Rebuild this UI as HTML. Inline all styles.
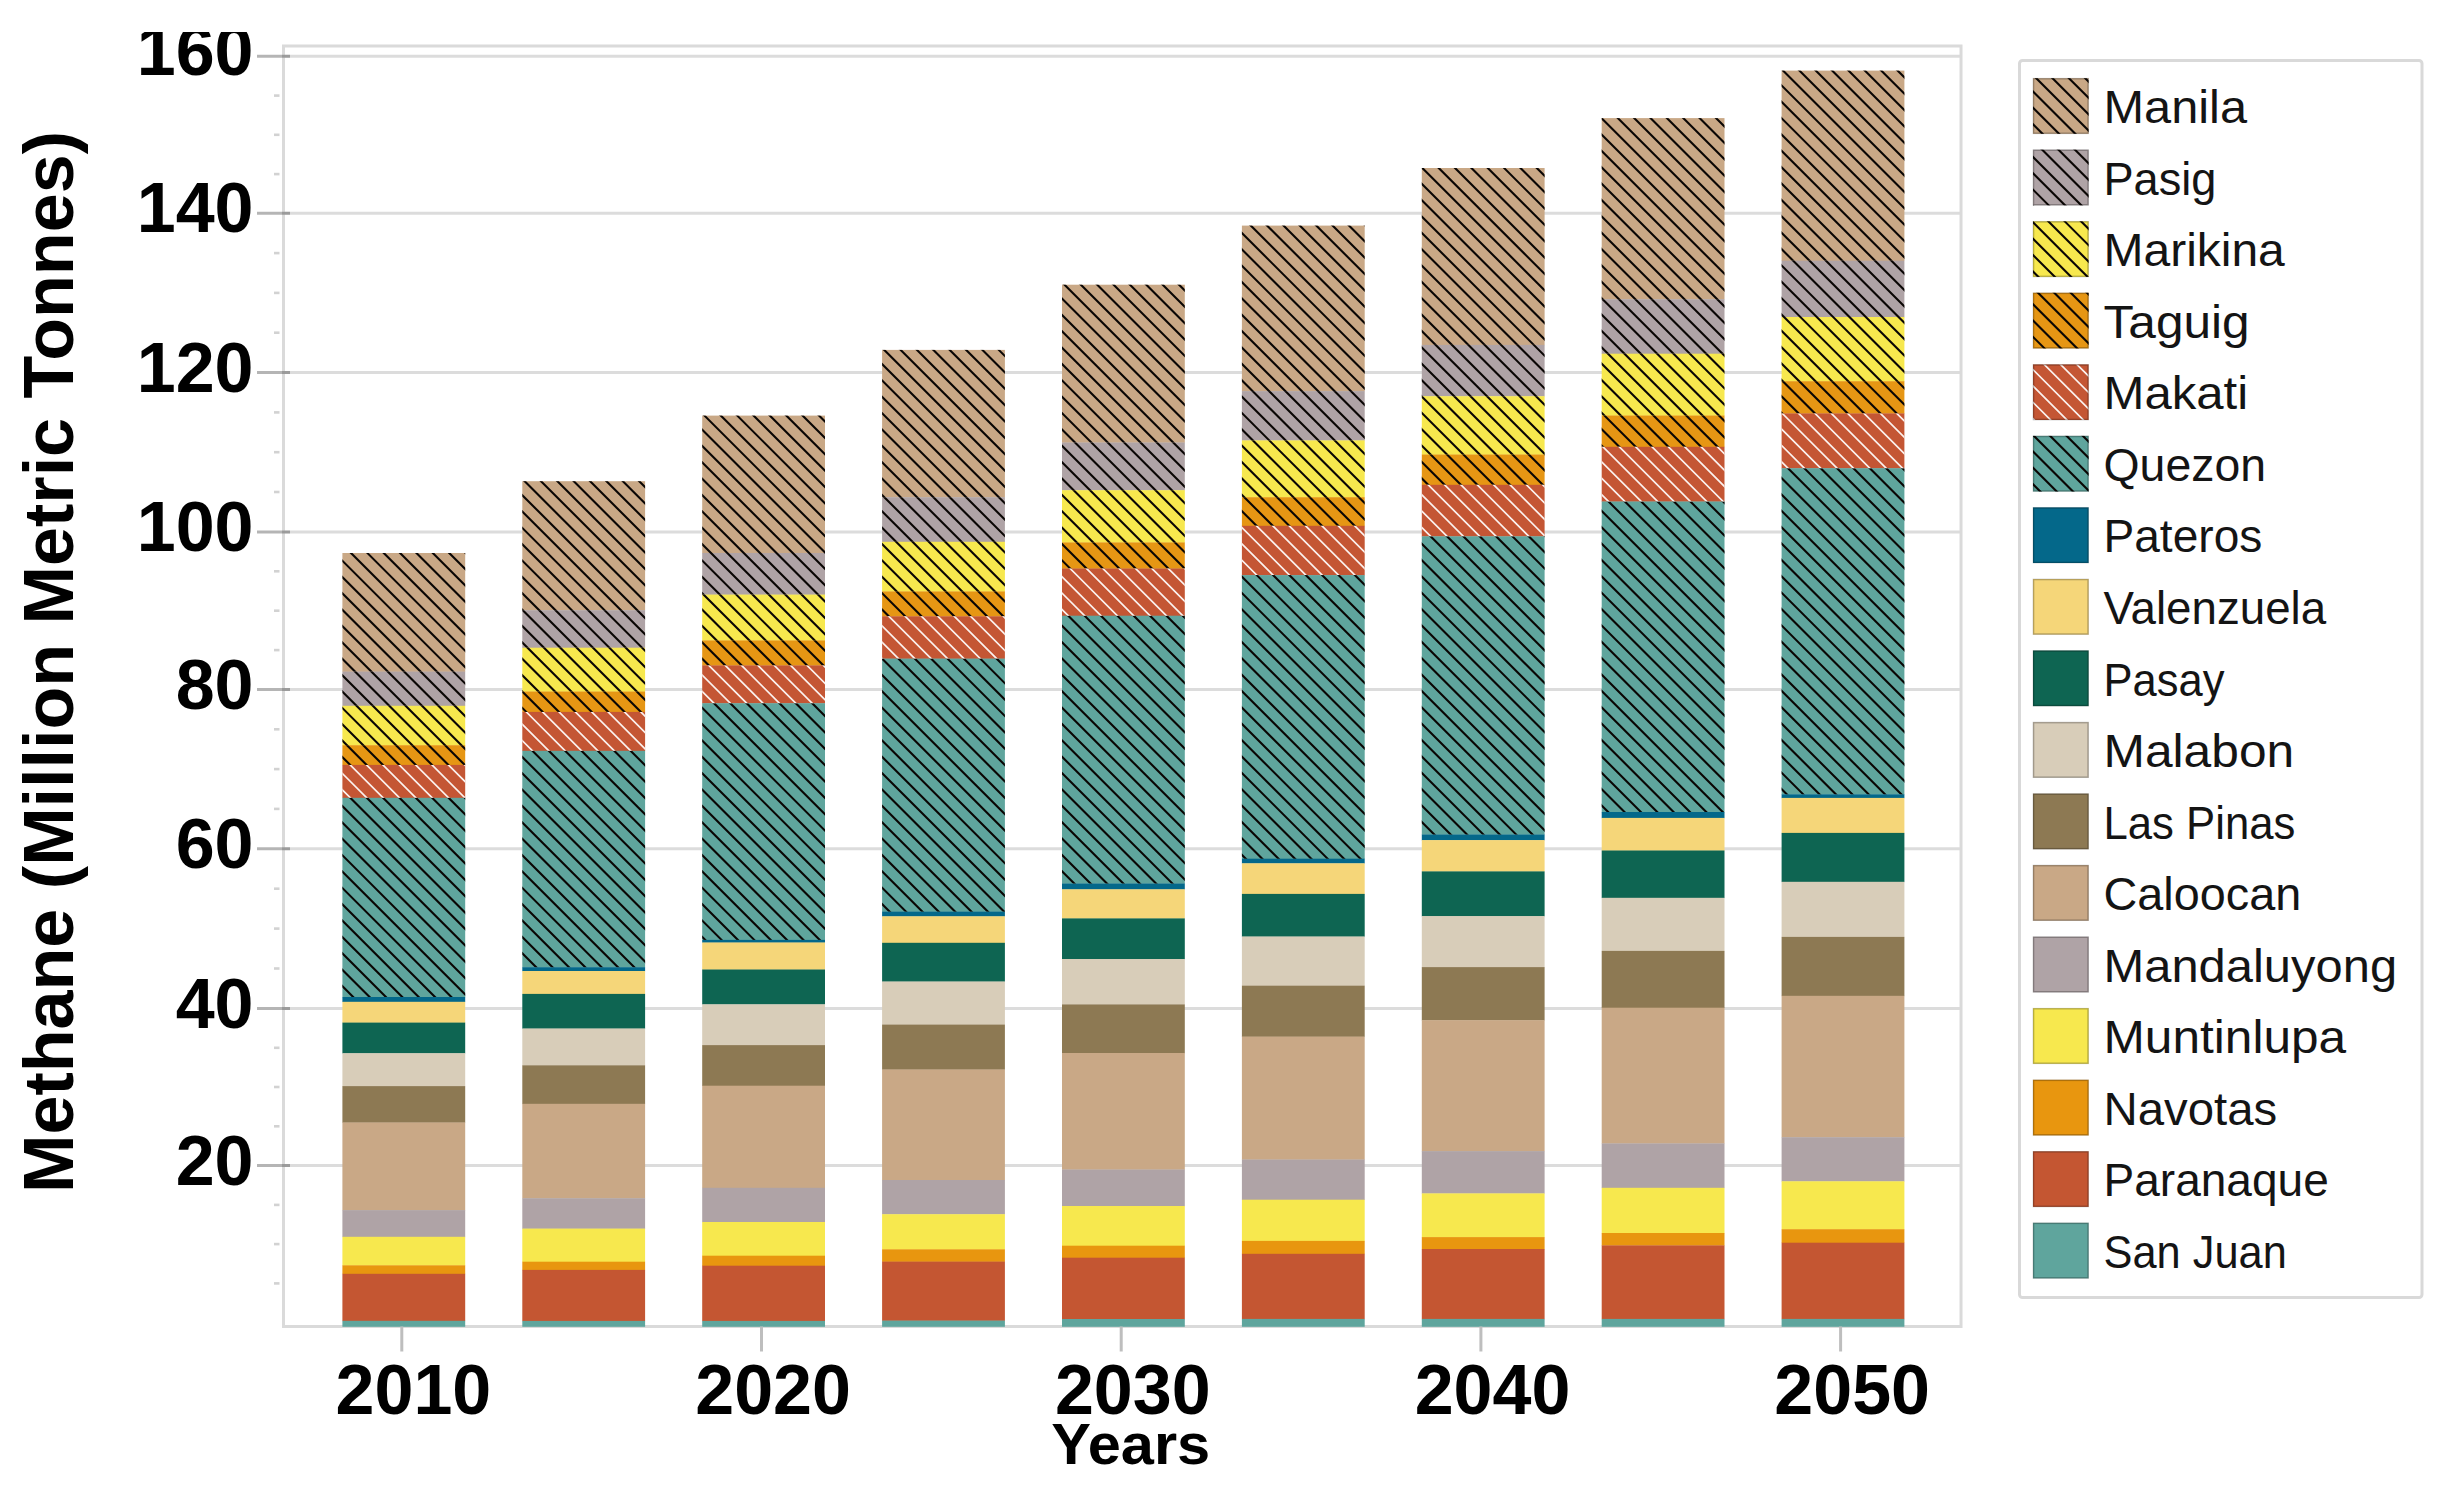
<!DOCTYPE html>
<html lang="en"><head><meta charset="utf-8"><title>Methane (Million Metric Tonnes) by Years</title>
<style>html,body{margin:0;padding:0;background:#fff}svg{display:block}text{font-family:"Liberation Sans",sans-serif}</style>
</head><body>
<svg width="2450" height="1495" viewBox="0 0 2450 1495">
<rect x="0" y="0" width="2450" height="1495" fill="#ffffff"/>
<defs>
<clipPath id="ck"><rect x="342.4" y="553.0" width="122.8" height="118.6"/><rect x="342.4" y="671.6" width="122.8" height="34.2"/><rect x="342.4" y="705.8" width="122.8" height="39.4"/><rect x="342.4" y="745.2" width="122.8" height="19.7"/><rect x="342.4" y="797.8" width="122.8" height="199.2"/><rect x="522.3" y="481.2" width="122.8" height="129.0"/><rect x="522.3" y="610.2" width="122.8" height="37.5"/><rect x="522.3" y="647.7" width="122.8" height="43.8"/><rect x="522.3" y="691.5" width="122.8" height="20.4"/><rect x="522.3" y="750.8" width="122.8" height="216.4"/><rect x="702.2" y="415.6" width="122.8" height="137.4"/><rect x="702.2" y="553.0" width="122.8" height="41.6"/><rect x="702.2" y="594.6" width="122.8" height="45.8"/><rect x="702.2" y="640.4" width="122.8" height="25.0"/><rect x="702.2" y="703.2" width="122.8" height="236.7"/><rect x="882.1" y="349.9" width="122.8" height="147.3"/><rect x="882.1" y="497.2" width="122.8" height="44.6"/><rect x="882.1" y="541.8" width="122.8" height="49.6"/><rect x="882.1" y="591.4" width="122.8" height="24.9"/><rect x="882.1" y="658.6" width="122.8" height="253.0"/><rect x="1062.0" y="284.7" width="122.8" height="157.8"/><rect x="1062.0" y="442.5" width="122.8" height="47.7"/><rect x="1062.0" y="490.2" width="122.8" height="52.2"/><rect x="1062.0" y="542.4" width="122.8" height="26.1"/><rect x="1062.0" y="615.7" width="122.8" height="267.8"/><rect x="1241.9" y="225.6" width="122.8" height="165.5"/><rect x="1241.9" y="391.1" width="122.8" height="49.3"/><rect x="1241.9" y="440.4" width="122.8" height="56.8"/><rect x="1241.9" y="497.2" width="122.8" height="28.6"/><rect x="1241.9" y="575.1" width="122.8" height="283.6"/><rect x="1421.8" y="168.0" width="122.8" height="176.9"/><rect x="1421.8" y="344.9" width="122.8" height="51.3"/><rect x="1421.8" y="396.2" width="122.8" height="58.3"/><rect x="1421.8" y="454.5" width="122.8" height="30.3"/><rect x="1421.8" y="536.3" width="122.8" height="298.2"/><rect x="1601.7" y="118.1" width="122.8" height="181.1"/><rect x="1601.7" y="299.2" width="122.8" height="54.5"/><rect x="1601.7" y="353.7" width="122.8" height="61.8"/><rect x="1601.7" y="415.5" width="122.8" height="31.3"/><rect x="1601.7" y="501.5" width="122.8" height="310.5"/><rect x="1781.6" y="70.6" width="122.8" height="190.1"/><rect x="1781.6" y="260.7" width="122.8" height="56.3"/><rect x="1781.6" y="317.0" width="122.8" height="64.2"/><rect x="1781.6" y="381.2" width="122.8" height="32.2"/><rect x="1781.6" y="468.2" width="122.8" height="326.1"/><rect x="2033.0" y="78.2" width="55.6" height="55.6"/><rect x="2033.0" y="149.7" width="55.6" height="55.6"/><rect x="2033.0" y="221.3" width="55.6" height="55.6"/><rect x="2033.0" y="292.8" width="55.6" height="55.6"/><rect x="2033.0" y="435.9" width="55.6" height="55.6"/></clipPath>
<clipPath id="cw"><rect x="342.4" y="764.9" width="122.8" height="32.9"/><rect x="522.3" y="711.9" width="122.8" height="38.9"/><rect x="702.2" y="665.4" width="122.8" height="37.8"/><rect x="882.1" y="616.3" width="122.8" height="42.3"/><rect x="1062.0" y="568.5" width="122.8" height="47.2"/><rect x="1241.9" y="525.8" width="122.8" height="49.3"/><rect x="1421.8" y="484.8" width="122.8" height="51.5"/><rect x="1601.7" y="446.8" width="122.8" height="54.7"/><rect x="1781.6" y="413.4" width="122.8" height="54.8"/><rect x="2033.0" y="364.4" width="55.6" height="55.6"/></clipPath>
<clipPath id="ctop"><rect x="0" y="32" width="300" height="100"/></clipPath>
</defs>
<g>
<g stroke="#dcdcdc" stroke-width="3">
<line x1="283.5" y1="56.3" x2="1961.0" y2="56.3"/>
<line x1="283.5" y1="213.3" x2="1961.0" y2="213.3"/>
<line x1="283.5" y1="372.5" x2="1961.0" y2="372.5"/>
<line x1="283.5" y1="531.9" x2="1961.0" y2="531.9"/>
<line x1="283.5" y1="689.5" x2="1961.0" y2="689.5"/>
<line x1="283.5" y1="848.7" x2="1961.0" y2="848.7"/>
<line x1="283.5" y1="1008.5" x2="1961.0" y2="1008.5"/>
<line x1="283.5" y1="1165.6" x2="1961.0" y2="1165.6"/>
</g>
<rect x="283.5" y="46.0" width="1677.5" height="1280.5" fill="none" stroke="#dadada" stroke-width="3"/>
<g>
<rect x="342.4" y="553.0" width="122.8" height="118.9" fill="#C9A886"/>
<rect x="342.4" y="671.6" width="122.8" height="34.5" fill="#AFA3A6"/>
<rect x="342.4" y="705.8" width="122.8" height="39.7" fill="#F7E84E"/>
<rect x="342.4" y="745.2" width="122.8" height="20.0" fill="#E69614"/>
<rect x="342.4" y="764.9" width="122.8" height="33.2" fill="#C45634"/>
<rect x="342.4" y="797.8" width="122.8" height="199.5" fill="#5FA59D"/>
<rect x="342.4" y="997.0" width="122.8" height="5.1" fill="#04688A"/>
<rect x="342.4" y="1001.8" width="122.8" height="21.1" fill="#F5D679"/>
<rect x="342.4" y="1022.6" width="122.8" height="30.9" fill="#0E6552"/>
<rect x="342.4" y="1053.2" width="122.8" height="33.2" fill="#D8CDB9"/>
<rect x="342.4" y="1086.1" width="122.8" height="36.7" fill="#8D7953"/>
<rect x="342.4" y="1122.5" width="122.8" height="87.9" fill="#C9A886"/>
<rect x="342.4" y="1210.1" width="122.8" height="27.0" fill="#AFA3A6"/>
<rect x="342.4" y="1236.8" width="122.8" height="28.8" fill="#F7E84E"/>
<rect x="342.4" y="1265.3" width="122.8" height="8.8" fill="#E8960F"/>
<rect x="342.4" y="1273.8" width="122.8" height="47.3" fill="#C45632"/>
<rect x="342.4" y="1320.8" width="122.8" height="6.0" fill="#5FA59D"/>
<rect x="522.3" y="481.2" width="122.8" height="129.3" fill="#C9A886"/>
<rect x="522.3" y="610.2" width="122.8" height="37.8" fill="#AFA3A6"/>
<rect x="522.3" y="647.7" width="122.8" height="44.1" fill="#F7E84E"/>
<rect x="522.3" y="691.5" width="122.8" height="20.7" fill="#E69614"/>
<rect x="522.3" y="711.9" width="122.8" height="39.2" fill="#C45634"/>
<rect x="522.3" y="750.8" width="122.8" height="216.7" fill="#5FA59D"/>
<rect x="522.3" y="967.2" width="122.8" height="4.1" fill="#04688A"/>
<rect x="522.3" y="971.0" width="122.8" height="23.2" fill="#F5D679"/>
<rect x="522.3" y="993.9" width="122.8" height="34.9" fill="#0E6552"/>
<rect x="522.3" y="1028.5" width="122.8" height="37.1" fill="#D8CDB9"/>
<rect x="522.3" y="1065.3" width="122.8" height="38.8" fill="#8D7953"/>
<rect x="522.3" y="1103.8" width="122.8" height="94.7" fill="#C9A886"/>
<rect x="522.3" y="1198.2" width="122.8" height="30.7" fill="#AFA3A6"/>
<rect x="522.3" y="1228.6" width="122.8" height="33.4" fill="#F7E84E"/>
<rect x="522.3" y="1261.7" width="122.8" height="8.5" fill="#E8960F"/>
<rect x="522.3" y="1269.9" width="122.8" height="51.3" fill="#C45632"/>
<rect x="522.3" y="1320.9" width="122.8" height="5.9" fill="#5FA59D"/>
<rect x="702.2" y="415.6" width="122.8" height="137.7" fill="#C9A886"/>
<rect x="702.2" y="553.0" width="122.8" height="41.9" fill="#AFA3A6"/>
<rect x="702.2" y="594.6" width="122.8" height="46.1" fill="#F7E84E"/>
<rect x="702.2" y="640.4" width="122.8" height="25.3" fill="#E69614"/>
<rect x="702.2" y="665.4" width="122.8" height="38.1" fill="#C45634"/>
<rect x="702.2" y="703.2" width="122.8" height="237.0" fill="#5FA59D"/>
<rect x="702.2" y="939.9" width="122.8" height="2.9" fill="#04688A"/>
<rect x="702.2" y="942.5" width="122.8" height="27.3" fill="#F5D679"/>
<rect x="702.2" y="969.5" width="122.8" height="35.1" fill="#0E6552"/>
<rect x="702.2" y="1004.3" width="122.8" height="41.1" fill="#D8CDB9"/>
<rect x="702.2" y="1045.1" width="122.8" height="40.9" fill="#8D7953"/>
<rect x="702.2" y="1085.7" width="122.8" height="102.4" fill="#C9A886"/>
<rect x="702.2" y="1187.8" width="122.8" height="34.5" fill="#AFA3A6"/>
<rect x="702.2" y="1222.0" width="122.8" height="34.0" fill="#F7E84E"/>
<rect x="702.2" y="1255.7" width="122.8" height="10.3" fill="#E8960F"/>
<rect x="702.2" y="1265.7" width="122.8" height="55.5" fill="#C45632"/>
<rect x="702.2" y="1320.9" width="122.8" height="5.9" fill="#5FA59D"/>
<rect x="882.1" y="349.9" width="122.8" height="147.6" fill="#C9A886"/>
<rect x="882.1" y="497.2" width="122.8" height="44.9" fill="#AFA3A6"/>
<rect x="882.1" y="541.8" width="122.8" height="49.9" fill="#F7E84E"/>
<rect x="882.1" y="591.4" width="122.8" height="25.2" fill="#E69614"/>
<rect x="882.1" y="616.3" width="122.8" height="42.6" fill="#C45634"/>
<rect x="882.1" y="658.6" width="122.8" height="253.3" fill="#5FA59D"/>
<rect x="882.1" y="911.6" width="122.8" height="5.0" fill="#04688A"/>
<rect x="882.1" y="916.3" width="122.8" height="26.8" fill="#F5D679"/>
<rect x="882.1" y="942.8" width="122.8" height="39.0" fill="#0E6552"/>
<rect x="882.1" y="981.5" width="122.8" height="43.4" fill="#D8CDB9"/>
<rect x="882.1" y="1024.6" width="122.8" height="45.2" fill="#8D7953"/>
<rect x="882.1" y="1069.5" width="122.8" height="110.8" fill="#C9A886"/>
<rect x="882.1" y="1180.0" width="122.8" height="34.5" fill="#AFA3A6"/>
<rect x="882.1" y="1214.2" width="122.8" height="35.4" fill="#F7E84E"/>
<rect x="882.1" y="1249.3" width="122.8" height="12.6" fill="#E8960F"/>
<rect x="882.1" y="1261.6" width="122.8" height="59.3" fill="#C45632"/>
<rect x="882.1" y="1320.6" width="122.8" height="6.2" fill="#5FA59D"/>
<rect x="1062.0" y="284.7" width="122.8" height="158.1" fill="#C9A886"/>
<rect x="1062.0" y="442.5" width="122.8" height="48.0" fill="#AFA3A6"/>
<rect x="1062.0" y="490.2" width="122.8" height="52.5" fill="#F7E84E"/>
<rect x="1062.0" y="542.4" width="122.8" height="26.4" fill="#E69614"/>
<rect x="1062.0" y="568.5" width="122.8" height="47.5" fill="#C45634"/>
<rect x="1062.0" y="615.7" width="122.8" height="268.1" fill="#5FA59D"/>
<rect x="1062.0" y="883.5" width="122.8" height="6.1" fill="#04688A"/>
<rect x="1062.0" y="889.3" width="122.8" height="29.4" fill="#F5D679"/>
<rect x="1062.0" y="918.4" width="122.8" height="40.9" fill="#0E6552"/>
<rect x="1062.0" y="959.0" width="122.8" height="45.7" fill="#D8CDB9"/>
<rect x="1062.0" y="1004.4" width="122.8" height="48.9" fill="#8D7953"/>
<rect x="1062.0" y="1053.0" width="122.8" height="116.8" fill="#C9A886"/>
<rect x="1062.0" y="1169.5" width="122.8" height="36.8" fill="#AFA3A6"/>
<rect x="1062.0" y="1206.0" width="122.8" height="40.0" fill="#F7E84E"/>
<rect x="1062.0" y="1245.7" width="122.8" height="12.3" fill="#E8960F"/>
<rect x="1062.0" y="1257.7" width="122.8" height="61.6" fill="#C45632"/>
<rect x="1062.0" y="1319.0" width="122.8" height="7.8" fill="#5FA59D"/>
<rect x="1241.9" y="225.6" width="122.8" height="165.8" fill="#C9A886"/>
<rect x="1241.9" y="391.1" width="122.8" height="49.6" fill="#AFA3A6"/>
<rect x="1241.9" y="440.4" width="122.8" height="57.1" fill="#F7E84E"/>
<rect x="1241.9" y="497.2" width="122.8" height="28.9" fill="#E69614"/>
<rect x="1241.9" y="525.8" width="122.8" height="49.6" fill="#C45634"/>
<rect x="1241.9" y="575.1" width="122.8" height="283.9" fill="#5FA59D"/>
<rect x="1241.9" y="858.7" width="122.8" height="4.9" fill="#04688A"/>
<rect x="1241.9" y="863.3" width="122.8" height="30.9" fill="#F5D679"/>
<rect x="1241.9" y="893.9" width="122.8" height="42.9" fill="#0E6552"/>
<rect x="1241.9" y="936.5" width="122.8" height="49.5" fill="#D8CDB9"/>
<rect x="1241.9" y="985.7" width="122.8" height="51.2" fill="#8D7953"/>
<rect x="1241.9" y="1036.6" width="122.8" height="123.2" fill="#C9A886"/>
<rect x="1241.9" y="1159.5" width="122.8" height="40.5" fill="#AFA3A6"/>
<rect x="1241.9" y="1199.7" width="122.8" height="41.5" fill="#F7E84E"/>
<rect x="1241.9" y="1240.9" width="122.8" height="13.2" fill="#E8960F"/>
<rect x="1241.9" y="1253.8" width="122.8" height="65.4" fill="#C45632"/>
<rect x="1241.9" y="1318.9" width="122.8" height="7.9" fill="#5FA59D"/>
<rect x="1421.8" y="168.0" width="122.8" height="177.2" fill="#C9A886"/>
<rect x="1421.8" y="344.9" width="122.8" height="51.6" fill="#AFA3A6"/>
<rect x="1421.8" y="396.2" width="122.8" height="58.6" fill="#F7E84E"/>
<rect x="1421.8" y="454.5" width="122.8" height="30.6" fill="#E69614"/>
<rect x="1421.8" y="484.8" width="122.8" height="51.8" fill="#C45634"/>
<rect x="1421.8" y="536.3" width="122.8" height="298.5" fill="#5FA59D"/>
<rect x="1421.8" y="834.5" width="122.8" height="5.9" fill="#04688A"/>
<rect x="1421.8" y="840.1" width="122.8" height="31.6" fill="#F5D679"/>
<rect x="1421.8" y="871.4" width="122.8" height="45.0" fill="#0E6552"/>
<rect x="1421.8" y="916.1" width="122.8" height="51.3" fill="#D8CDB9"/>
<rect x="1421.8" y="967.1" width="122.8" height="53.4" fill="#8D7953"/>
<rect x="1421.8" y="1020.2" width="122.8" height="131.2" fill="#C9A886"/>
<rect x="1421.8" y="1151.1" width="122.8" height="42.6" fill="#AFA3A6"/>
<rect x="1421.8" y="1193.4" width="122.8" height="44.0" fill="#F7E84E"/>
<rect x="1421.8" y="1237.1" width="122.8" height="12.2" fill="#E8960F"/>
<rect x="1421.8" y="1249.0" width="122.8" height="70.2" fill="#C45632"/>
<rect x="1421.8" y="1318.9" width="122.8" height="7.9" fill="#5FA59D"/>
<rect x="1601.7" y="118.1" width="122.8" height="181.4" fill="#C9A886"/>
<rect x="1601.7" y="299.2" width="122.8" height="54.8" fill="#AFA3A6"/>
<rect x="1601.7" y="353.7" width="122.8" height="62.1" fill="#F7E84E"/>
<rect x="1601.7" y="415.5" width="122.8" height="31.6" fill="#E69614"/>
<rect x="1601.7" y="446.8" width="122.8" height="55.0" fill="#C45634"/>
<rect x="1601.7" y="501.5" width="122.8" height="310.8" fill="#5FA59D"/>
<rect x="1601.7" y="812.0" width="122.8" height="6.2" fill="#04688A"/>
<rect x="1601.7" y="817.9" width="122.8" height="32.9" fill="#F5D679"/>
<rect x="1601.7" y="850.5" width="122.8" height="47.6" fill="#0E6552"/>
<rect x="1601.7" y="897.8" width="122.8" height="53.4" fill="#D8CDB9"/>
<rect x="1601.7" y="950.9" width="122.8" height="57.1" fill="#8D7953"/>
<rect x="1601.7" y="1007.7" width="122.8" height="136.0" fill="#C9A886"/>
<rect x="1601.7" y="1143.4" width="122.8" height="44.7" fill="#AFA3A6"/>
<rect x="1601.7" y="1187.8" width="122.8" height="45.5" fill="#F7E84E"/>
<rect x="1601.7" y="1233.0" width="122.8" height="12.7" fill="#E8960F"/>
<rect x="1601.7" y="1245.4" width="122.8" height="73.8" fill="#C45632"/>
<rect x="1601.7" y="1318.9" width="122.8" height="7.9" fill="#5FA59D"/>
<rect x="1781.6" y="70.6" width="122.8" height="190.4" fill="#C9A886"/>
<rect x="1781.6" y="260.7" width="122.8" height="56.6" fill="#AFA3A6"/>
<rect x="1781.6" y="317.0" width="122.8" height="64.5" fill="#F7E84E"/>
<rect x="1781.6" y="381.2" width="122.8" height="32.5" fill="#E69614"/>
<rect x="1781.6" y="413.4" width="122.8" height="55.1" fill="#C45634"/>
<rect x="1781.6" y="468.2" width="122.8" height="326.4" fill="#5FA59D"/>
<rect x="1781.6" y="794.3" width="122.8" height="3.9" fill="#04688A"/>
<rect x="1781.6" y="797.9" width="122.8" height="35.3" fill="#F5D679"/>
<rect x="1781.6" y="832.9" width="122.8" height="49.2" fill="#0E6552"/>
<rect x="1781.6" y="881.8" width="122.8" height="55.4" fill="#D8CDB9"/>
<rect x="1781.6" y="936.9" width="122.8" height="59.2" fill="#8D7953"/>
<rect x="1781.6" y="995.8" width="122.8" height="141.7" fill="#C9A886"/>
<rect x="1781.6" y="1137.2" width="122.8" height="44.4" fill="#AFA3A6"/>
<rect x="1781.6" y="1181.3" width="122.8" height="48.2" fill="#F7E84E"/>
<rect x="1781.6" y="1229.2" width="122.8" height="13.8" fill="#E8960F"/>
<rect x="1781.6" y="1242.7" width="122.8" height="76.5" fill="#C45632"/>
<rect x="1781.6" y="1318.9" width="122.8" height="7.9" fill="#5FA59D"/>
</g>
<rect x="2019.5" y="60.5" width="402.5" height="1237" rx="3" fill="#ffffff" stroke="#d9d9d9" stroke-width="3"/>
<rect x="2033.0" y="78.2" width="55.6" height="55.6" fill="#C9A886"/>
<rect x="2033.0" y="149.7" width="55.6" height="55.6" fill="#AFA3A6"/>
<rect x="2033.0" y="221.3" width="55.6" height="55.6" fill="#F7E84E"/>
<rect x="2033.0" y="292.8" width="55.6" height="55.6" fill="#E69614"/>
<rect x="2033.0" y="364.4" width="55.6" height="55.6" fill="#C45634"/>
<rect x="2033.0" y="435.9" width="55.6" height="55.6" fill="#5FA59D"/>
<rect x="2033.0" y="507.4" width="55.6" height="55.6" fill="#04688A"/>
<rect x="2033.0" y="579.0" width="55.6" height="55.6" fill="#F5D679"/>
<rect x="2033.0" y="650.5" width="55.6" height="55.6" fill="#0E6552"/>
<rect x="2033.0" y="722.1" width="55.6" height="55.6" fill="#D8CDB9"/>
<rect x="2033.0" y="793.6" width="55.6" height="55.6" fill="#8D7953"/>
<rect x="2033.0" y="865.1" width="55.6" height="55.6" fill="#C9A886"/>
<rect x="2033.0" y="936.7" width="55.6" height="55.6" fill="#AFA3A6"/>
<rect x="2033.0" y="1008.2" width="55.6" height="55.6" fill="#F7E84E"/>
<rect x="2033.0" y="1079.8" width="55.6" height="55.6" fill="#E8960F"/>
<rect x="2033.0" y="1151.3" width="55.6" height="55.6" fill="#C45632"/>
<rect x="2033.0" y="1222.8" width="55.6" height="55.6" fill="#5FA59D"/>
<g clip-path="url(#ck)"><path d="M2448.81 0.00L2450.00 1.19M2432.45 0.00L2450.00 17.55M2416.08 0.00L2450.00 33.92M2399.72 0.00L2450.00 50.28M2383.36 0.00L2450.00 66.64M2366.99 0.00L2450.00 83.01M2350.63 0.00L2450.00 99.37M2334.27 0.00L2450.00 115.73M2317.91 0.00L2450.00 132.09M2301.54 0.00L2450.00 148.46M2285.18 0.00L2450.00 164.82M2268.82 0.00L2450.00 181.18M2252.45 0.00L2450.00 197.55M2236.09 0.00L2450.00 213.91M2219.73 0.00L2450.00 230.27M2203.37 0.00L2450.00 246.63M2187.00 0.00L2450.00 263.00M2170.64 0.00L2450.00 279.36M2154.28 0.00L2450.00 295.72M2137.91 0.00L2450.00 312.09M2121.55 0.00L2450.00 328.45M2105.19 0.00L2450.00 344.81M2088.82 0.00L2450.00 361.18M2072.46 0.00L2450.00 377.54M2056.10 0.00L2450.00 393.90M2039.73 0.00L2450.00 410.27M2023.37 0.00L2450.00 426.63M2007.01 0.00L2450.00 442.99M1990.65 0.00L2450.00 459.35M1974.28 0.00L2450.00 475.72M1957.92 0.00L2450.00 492.08M1941.56 0.00L2450.00 508.44M1925.19 0.00L2450.00 524.81M1908.83 0.00L2450.00 541.17M1892.47 0.00L2450.00 557.53M1876.10 0.00L2450.00 573.90M1859.74 0.00L2450.00 590.26M1843.38 0.00L2450.00 606.62M1827.02 0.00L2450.00 622.98M1810.65 0.00L2450.00 639.35M1794.29 0.00L2450.00 655.71M1777.93 0.00L2450.00 672.07M1761.56 0.00L2450.00 688.44M1745.20 0.00L2450.00 704.80M1728.84 0.00L2450.00 721.16M1712.47 0.00L2450.00 737.53M1696.11 0.00L2450.00 753.89M1679.75 0.00L2450.00 770.25M1663.39 0.00L2450.00 786.61M1647.02 0.00L2450.00 802.98M1630.66 0.00L2450.00 819.34M1614.30 0.00L2450.00 835.70M1597.93 0.00L2450.00 852.07M1581.57 0.00L2450.00 868.43M1565.21 0.00L2450.00 884.79M1548.84 0.00L2450.00 901.16M1532.48 0.00L2450.00 917.52M1516.12 0.00L2450.00 933.88M1499.76 0.00L2450.00 950.24M1483.39 0.00L2450.00 966.61M1467.03 0.00L2450.00 982.97M1450.67 0.00L2450.00 999.33M1434.30 0.00L2450.00 1015.70M1417.94 0.00L2450.00 1032.06M1401.58 0.00L2450.00 1048.42M1385.21 0.00L2450.00 1064.79M1368.85 0.00L2450.00 1081.15M1352.49 0.00L2450.00 1097.51M1336.13 0.00L2450.00 1113.87M1319.76 0.00L2450.00 1130.24M1303.40 0.00L2450.00 1146.60M1287.04 0.00L2450.00 1162.96M1270.67 0.00L2450.00 1179.33M1254.31 0.00L2450.00 1195.69M1237.95 0.00L2450.00 1212.05M1221.58 0.00L2450.00 1228.42M1205.22 0.00L2450.00 1244.78M1188.86 0.00L2450.00 1261.14M1172.50 0.00L2450.00 1277.50M1156.13 0.00L2450.00 1293.87M1139.77 0.00L2450.00 1310.23M1123.41 0.00L2450.00 1326.59M1107.04 0.00L2450.00 1342.96M1090.68 0.00L2450.00 1359.32M1074.32 0.00L2450.00 1375.68M1057.95 0.00L2450.00 1392.05M1041.59 0.00L2450.00 1408.41M1025.23 0.00L2450.00 1424.77M1008.87 0.00L2450.00 1441.13M992.50 0.00L2450.00 1457.50M976.14 0.00L2450.00 1473.86M959.78 0.00L2450.00 1490.22M943.41 0.00L2438.41 1495.00M927.05 0.00L2422.05 1495.00M910.69 0.00L2405.69 1495.00M894.32 0.00L2389.32 1495.00M877.96 0.00L2372.96 1495.00M861.60 0.00L2356.60 1495.00M845.24 0.00L2340.24 1495.00M828.87 0.00L2323.87 1495.00M812.51 0.00L2307.51 1495.00M796.15 0.00L2291.15 1495.00M779.78 0.00L2274.78 1495.00M763.42 0.00L2258.42 1495.00M747.06 0.00L2242.06 1495.00M730.70 0.00L2225.70 1495.00M714.33 0.00L2209.33 1495.00M697.97 0.00L2192.97 1495.00M681.61 0.00L2176.61 1495.00M665.24 0.00L2160.24 1495.00M648.88 0.00L2143.88 1495.00M632.52 0.00L2127.52 1495.00M616.15 0.00L2111.15 1495.00M599.79 0.00L2094.79 1495.00M583.43 0.00L2078.43 1495.00M567.06 0.00L2062.07 1495.00M550.70 0.00L2045.70 1495.00M534.34 0.00L2029.34 1495.00M517.98 0.00L2012.98 1495.00M501.61 0.00L1996.61 1495.00M485.25 0.00L1980.25 1495.00M468.89 0.00L1963.89 1495.00M452.52 0.00L1947.52 1495.00M436.16 0.00L1931.16 1495.00M419.80 0.00L1914.80 1495.00M403.44 0.00L1898.43 1495.00M387.07 0.00L1882.07 1495.00M370.71 0.00L1865.71 1495.00M354.35 0.00L1849.35 1495.00M337.98 0.00L1832.98 1495.00M321.62 0.00L1816.62 1495.00M305.26 0.00L1800.26 1495.00M288.89 0.00L1783.89 1495.00M272.53 0.00L1767.53 1495.00M256.17 0.00L1751.17 1495.00M239.81 0.00L1734.81 1495.00M223.44 0.00L1718.44 1495.00M207.08 0.00L1702.08 1495.00M190.72 0.00L1685.72 1495.00M174.35 0.00L1669.35 1495.00M157.99 0.00L1652.99 1495.00M141.63 0.00L1636.63 1495.00M125.26 0.00L1620.26 1495.00M108.90 0.00L1603.90 1495.00M92.54 0.00L1587.54 1495.00M76.17 0.00L1571.17 1495.00M59.81 0.00L1554.81 1495.00M43.45 0.00L1538.45 1495.00M27.09 0.00L1522.09 1495.00M10.72 0.00L1505.72 1495.00M0.00 5.64L1489.36 1495.00M0.00 22.00L1473.00 1495.00M0.00 38.37L1456.63 1495.00M0.00 54.73L1440.27 1495.00M0.00 71.09L1423.91 1495.00M0.00 87.45L1407.55 1495.00M0.00 103.82L1391.18 1495.00M0.00 120.18L1374.82 1495.00M0.00 136.54L1358.46 1495.00M0.00 152.91L1342.09 1495.00M0.00 169.27L1325.73 1495.00M0.00 185.63L1309.37 1495.00M0.00 202.00L1293.00 1495.00M0.00 218.36L1276.64 1495.00M0.00 234.72L1260.28 1495.00M0.00 251.08L1243.91 1495.00M0.00 267.45L1227.55 1495.00M0.00 283.81L1211.19 1495.00M0.00 300.17L1194.83 1495.00M0.00 316.54L1178.46 1495.00M0.00 332.90L1162.10 1495.00M0.00 349.26L1145.74 1495.00M0.00 365.63L1129.37 1495.00M0.00 381.99L1113.01 1495.00M0.00 398.35L1096.65 1495.00M0.00 414.71L1080.29 1495.00M0.00 431.08L1063.92 1495.00M0.00 447.44L1047.56 1495.00M0.00 463.80L1031.20 1495.00M0.00 480.17L1014.83 1495.00M0.00 496.53L998.47 1495.00M0.00 512.89L982.11 1495.00M0.00 529.26L965.74 1495.00M0.00 545.62L949.38 1495.00M0.00 561.98L933.02 1495.00M0.00 578.34L916.66 1495.00M0.00 594.71L900.29 1495.00M0.00 611.07L883.93 1495.00M0.00 627.43L867.57 1495.00M0.00 643.80L851.20 1495.00M0.00 660.16L834.84 1495.00M0.00 676.52L818.48 1495.00M0.00 692.89L802.11 1495.00M0.00 709.25L785.75 1495.00M0.00 725.61L769.39 1495.00M0.00 741.98L753.02 1495.00M0.00 758.34L736.66 1495.00M0.00 774.70L720.30 1495.00M0.00 791.06L703.94 1495.00M0.00 807.43L687.57 1495.00M0.00 823.79L671.21 1495.00M0.00 840.15L654.85 1495.00M0.00 856.52L638.48 1495.00M0.00 872.88L622.12 1495.00M0.00 889.24L605.76 1495.00M0.00 905.60L589.40 1495.00M0.00 921.97L573.03 1495.00M0.00 938.33L556.67 1495.00M0.00 954.69L540.31 1495.00M0.00 971.06L523.94 1495.00M0.00 987.42L507.58 1495.00M0.00 1003.78L491.22 1495.00M0.00 1020.15L474.85 1495.00M0.00 1036.51L458.49 1495.00M0.00 1052.87L442.13 1495.00M0.00 1069.24L425.76 1495.00M0.00 1085.60L409.40 1495.00M0.00 1101.96L393.04 1495.00M0.00 1118.32L376.68 1495.00M0.00 1134.69L360.31 1495.00M0.00 1151.05L343.95 1495.00M0.00 1167.41L327.59 1495.00M0.00 1183.78L311.22 1495.00M0.00 1200.14L294.86 1495.00M0.00 1216.50L278.50 1495.00M0.00 1232.87L262.13 1495.00M0.00 1249.23L245.77 1495.00M0.00 1265.59L229.41 1495.00M0.00 1281.95L213.05 1495.00M0.00 1298.32L196.68 1495.00M0.00 1314.68L180.32 1495.00M0.00 1331.04L163.96 1495.00M0.00 1347.41L147.59 1495.00M0.00 1363.77L131.23 1495.00M0.00 1380.13L114.87 1495.00M0.00 1396.50L98.50 1495.00M0.00 1412.86L82.14 1495.00M0.00 1429.22L65.78 1495.00M0.00 1445.58L49.42 1495.00M0.00 1461.95L33.05 1495.00M0.00 1478.31L16.69 1495.00M0.00 1494.67L0.33 1495.00" fill="none" stroke="#0a0604" stroke-width="2.1"/></g>
<g clip-path="url(#cw)"><path d="M2448.81 0.00L2450.00 1.19M2432.45 0.00L2450.00 17.55M2416.08 0.00L2450.00 33.92M2399.72 0.00L2450.00 50.28M2383.36 0.00L2450.00 66.64M2366.99 0.00L2450.00 83.01M2350.63 0.00L2450.00 99.37M2334.27 0.00L2450.00 115.73M2317.91 0.00L2450.00 132.09M2301.54 0.00L2450.00 148.46M2285.18 0.00L2450.00 164.82M2268.82 0.00L2450.00 181.18M2252.45 0.00L2450.00 197.55M2236.09 0.00L2450.00 213.91M2219.73 0.00L2450.00 230.27M2203.37 0.00L2450.00 246.63M2187.00 0.00L2450.00 263.00M2170.64 0.00L2450.00 279.36M2154.28 0.00L2450.00 295.72M2137.91 0.00L2450.00 312.09M2121.55 0.00L2450.00 328.45M2105.19 0.00L2450.00 344.81M2088.82 0.00L2450.00 361.18M2072.46 0.00L2450.00 377.54M2056.10 0.00L2450.00 393.90M2039.73 0.00L2450.00 410.27M2023.37 0.00L2450.00 426.63M2007.01 0.00L2450.00 442.99M1990.65 0.00L2450.00 459.35M1974.28 0.00L2450.00 475.72M1957.92 0.00L2450.00 492.08M1941.56 0.00L2450.00 508.44M1925.19 0.00L2450.00 524.81M1908.83 0.00L2450.00 541.17M1892.47 0.00L2450.00 557.53M1876.10 0.00L2450.00 573.90M1859.74 0.00L2450.00 590.26M1843.38 0.00L2450.00 606.62M1827.02 0.00L2450.00 622.98M1810.65 0.00L2450.00 639.35M1794.29 0.00L2450.00 655.71M1777.93 0.00L2450.00 672.07M1761.56 0.00L2450.00 688.44M1745.20 0.00L2450.00 704.80M1728.84 0.00L2450.00 721.16M1712.47 0.00L2450.00 737.53M1696.11 0.00L2450.00 753.89M1679.75 0.00L2450.00 770.25M1663.39 0.00L2450.00 786.61M1647.02 0.00L2450.00 802.98M1630.66 0.00L2450.00 819.34M1614.30 0.00L2450.00 835.70M1597.93 0.00L2450.00 852.07M1581.57 0.00L2450.00 868.43M1565.21 0.00L2450.00 884.79M1548.84 0.00L2450.00 901.16M1532.48 0.00L2450.00 917.52M1516.12 0.00L2450.00 933.88M1499.76 0.00L2450.00 950.24M1483.39 0.00L2450.00 966.61M1467.03 0.00L2450.00 982.97M1450.67 0.00L2450.00 999.33M1434.30 0.00L2450.00 1015.70M1417.94 0.00L2450.00 1032.06M1401.58 0.00L2450.00 1048.42M1385.21 0.00L2450.00 1064.79M1368.85 0.00L2450.00 1081.15M1352.49 0.00L2450.00 1097.51M1336.13 0.00L2450.00 1113.87M1319.76 0.00L2450.00 1130.24M1303.40 0.00L2450.00 1146.60M1287.04 0.00L2450.00 1162.96M1270.67 0.00L2450.00 1179.33M1254.31 0.00L2450.00 1195.69M1237.95 0.00L2450.00 1212.05M1221.58 0.00L2450.00 1228.42M1205.22 0.00L2450.00 1244.78M1188.86 0.00L2450.00 1261.14M1172.50 0.00L2450.00 1277.50M1156.13 0.00L2450.00 1293.87M1139.77 0.00L2450.00 1310.23M1123.41 0.00L2450.00 1326.59M1107.04 0.00L2450.00 1342.96M1090.68 0.00L2450.00 1359.32M1074.32 0.00L2450.00 1375.68M1057.95 0.00L2450.00 1392.05M1041.59 0.00L2450.00 1408.41M1025.23 0.00L2450.00 1424.77M1008.87 0.00L2450.00 1441.13M992.50 0.00L2450.00 1457.50M976.14 0.00L2450.00 1473.86M959.78 0.00L2450.00 1490.22M943.41 0.00L2438.41 1495.00M927.05 0.00L2422.05 1495.00M910.69 0.00L2405.69 1495.00M894.32 0.00L2389.32 1495.00M877.96 0.00L2372.96 1495.00M861.60 0.00L2356.60 1495.00M845.24 0.00L2340.24 1495.00M828.87 0.00L2323.87 1495.00M812.51 0.00L2307.51 1495.00M796.15 0.00L2291.15 1495.00M779.78 0.00L2274.78 1495.00M763.42 0.00L2258.42 1495.00M747.06 0.00L2242.06 1495.00M730.70 0.00L2225.70 1495.00M714.33 0.00L2209.33 1495.00M697.97 0.00L2192.97 1495.00M681.61 0.00L2176.61 1495.00M665.24 0.00L2160.24 1495.00M648.88 0.00L2143.88 1495.00M632.52 0.00L2127.52 1495.00M616.15 0.00L2111.15 1495.00M599.79 0.00L2094.79 1495.00M583.43 0.00L2078.43 1495.00M567.06 0.00L2062.07 1495.00M550.70 0.00L2045.70 1495.00M534.34 0.00L2029.34 1495.00M517.98 0.00L2012.98 1495.00M501.61 0.00L1996.61 1495.00M485.25 0.00L1980.25 1495.00M468.89 0.00L1963.89 1495.00M452.52 0.00L1947.52 1495.00M436.16 0.00L1931.16 1495.00M419.80 0.00L1914.80 1495.00M403.44 0.00L1898.43 1495.00M387.07 0.00L1882.07 1495.00M370.71 0.00L1865.71 1495.00M354.35 0.00L1849.35 1495.00M337.98 0.00L1832.98 1495.00M321.62 0.00L1816.62 1495.00M305.26 0.00L1800.26 1495.00M288.89 0.00L1783.89 1495.00M272.53 0.00L1767.53 1495.00M256.17 0.00L1751.17 1495.00M239.81 0.00L1734.81 1495.00M223.44 0.00L1718.44 1495.00M207.08 0.00L1702.08 1495.00M190.72 0.00L1685.72 1495.00M174.35 0.00L1669.35 1495.00M157.99 0.00L1652.99 1495.00M141.63 0.00L1636.63 1495.00M125.26 0.00L1620.26 1495.00M108.90 0.00L1603.90 1495.00M92.54 0.00L1587.54 1495.00M76.17 0.00L1571.17 1495.00M59.81 0.00L1554.81 1495.00M43.45 0.00L1538.45 1495.00M27.09 0.00L1522.09 1495.00M10.72 0.00L1505.72 1495.00M0.00 5.64L1489.36 1495.00M0.00 22.00L1473.00 1495.00M0.00 38.37L1456.63 1495.00M0.00 54.73L1440.27 1495.00M0.00 71.09L1423.91 1495.00M0.00 87.45L1407.55 1495.00M0.00 103.82L1391.18 1495.00M0.00 120.18L1374.82 1495.00M0.00 136.54L1358.46 1495.00M0.00 152.91L1342.09 1495.00M0.00 169.27L1325.73 1495.00M0.00 185.63L1309.37 1495.00M0.00 202.00L1293.00 1495.00M0.00 218.36L1276.64 1495.00M0.00 234.72L1260.28 1495.00M0.00 251.08L1243.91 1495.00M0.00 267.45L1227.55 1495.00M0.00 283.81L1211.19 1495.00M0.00 300.17L1194.83 1495.00M0.00 316.54L1178.46 1495.00M0.00 332.90L1162.10 1495.00M0.00 349.26L1145.74 1495.00M0.00 365.63L1129.37 1495.00M0.00 381.99L1113.01 1495.00M0.00 398.35L1096.65 1495.00M0.00 414.71L1080.29 1495.00M0.00 431.08L1063.92 1495.00M0.00 447.44L1047.56 1495.00M0.00 463.80L1031.20 1495.00M0.00 480.17L1014.83 1495.00M0.00 496.53L998.47 1495.00M0.00 512.89L982.11 1495.00M0.00 529.26L965.74 1495.00M0.00 545.62L949.38 1495.00M0.00 561.98L933.02 1495.00M0.00 578.34L916.66 1495.00M0.00 594.71L900.29 1495.00M0.00 611.07L883.93 1495.00M0.00 627.43L867.57 1495.00M0.00 643.80L851.20 1495.00M0.00 660.16L834.84 1495.00M0.00 676.52L818.48 1495.00M0.00 692.89L802.11 1495.00M0.00 709.25L785.75 1495.00M0.00 725.61L769.39 1495.00M0.00 741.98L753.02 1495.00M0.00 758.34L736.66 1495.00M0.00 774.70L720.30 1495.00M0.00 791.06L703.94 1495.00M0.00 807.43L687.57 1495.00M0.00 823.79L671.21 1495.00M0.00 840.15L654.85 1495.00M0.00 856.52L638.48 1495.00M0.00 872.88L622.12 1495.00M0.00 889.24L605.76 1495.00M0.00 905.60L589.40 1495.00M0.00 921.97L573.03 1495.00M0.00 938.33L556.67 1495.00M0.00 954.69L540.31 1495.00M0.00 971.06L523.94 1495.00M0.00 987.42L507.58 1495.00M0.00 1003.78L491.22 1495.00M0.00 1020.15L474.85 1495.00M0.00 1036.51L458.49 1495.00M0.00 1052.87L442.13 1495.00M0.00 1069.24L425.76 1495.00M0.00 1085.60L409.40 1495.00M0.00 1101.96L393.04 1495.00M0.00 1118.32L376.68 1495.00M0.00 1134.69L360.31 1495.00M0.00 1151.05L343.95 1495.00M0.00 1167.41L327.59 1495.00M0.00 1183.78L311.22 1495.00M0.00 1200.14L294.86 1495.00M0.00 1216.50L278.50 1495.00M0.00 1232.87L262.13 1495.00M0.00 1249.23L245.77 1495.00M0.00 1265.59L229.41 1495.00M0.00 1281.95L213.05 1495.00M0.00 1298.32L196.68 1495.00M0.00 1314.68L180.32 1495.00M0.00 1331.04L163.96 1495.00M0.00 1347.41L147.59 1495.00M0.00 1363.77L131.23 1495.00M0.00 1380.13L114.87 1495.00M0.00 1396.50L98.50 1495.00M0.00 1412.86L82.14 1495.00M0.00 1429.22L65.78 1495.00M0.00 1445.58L49.42 1495.00M0.00 1461.95L33.05 1495.00M0.00 1478.31L16.69 1495.00M0.00 1494.67L0.33 1495.00" fill="none" stroke="#ffffff" stroke-opacity="0.92" stroke-width="1.7"/></g>
<rect x="2033.5" y="78.7" width="54.6" height="54.6" fill="none" stroke="#000" stroke-opacity="0.25" stroke-width="1.6"/>
<rect x="2033.5" y="150.2" width="54.6" height="54.6" fill="none" stroke="#000" stroke-opacity="0.25" stroke-width="1.6"/>
<rect x="2033.5" y="221.8" width="54.6" height="54.6" fill="none" stroke="#000" stroke-opacity="0.25" stroke-width="1.6"/>
<rect x="2033.5" y="293.3" width="54.6" height="54.6" fill="none" stroke="#000" stroke-opacity="0.25" stroke-width="1.6"/>
<rect x="2033.5" y="364.9" width="54.6" height="54.6" fill="none" stroke="#000" stroke-opacity="0.25" stroke-width="1.6"/>
<rect x="2033.5" y="436.4" width="54.6" height="54.6" fill="none" stroke="#000" stroke-opacity="0.25" stroke-width="1.6"/>
<rect x="2033.5" y="507.9" width="54.6" height="54.6" fill="none" stroke="#000" stroke-opacity="0.25" stroke-width="1.6"/>
<rect x="2033.5" y="579.5" width="54.6" height="54.6" fill="none" stroke="#000" stroke-opacity="0.25" stroke-width="1.6"/>
<rect x="2033.5" y="651.0" width="54.6" height="54.6" fill="none" stroke="#000" stroke-opacity="0.25" stroke-width="1.6"/>
<rect x="2033.5" y="722.6" width="54.6" height="54.6" fill="none" stroke="#000" stroke-opacity="0.25" stroke-width="1.6"/>
<rect x="2033.5" y="794.1" width="54.6" height="54.6" fill="none" stroke="#000" stroke-opacity="0.25" stroke-width="1.6"/>
<rect x="2033.5" y="865.6" width="54.6" height="54.6" fill="none" stroke="#000" stroke-opacity="0.25" stroke-width="1.6"/>
<rect x="2033.5" y="937.2" width="54.6" height="54.6" fill="none" stroke="#000" stroke-opacity="0.25" stroke-width="1.6"/>
<rect x="2033.5" y="1008.7" width="54.6" height="54.6" fill="none" stroke="#000" stroke-opacity="0.25" stroke-width="1.6"/>
<rect x="2033.5" y="1080.3" width="54.6" height="54.6" fill="none" stroke="#000" stroke-opacity="0.25" stroke-width="1.6"/>
<rect x="2033.5" y="1151.8" width="54.6" height="54.6" fill="none" stroke="#000" stroke-opacity="0.25" stroke-width="1.6"/>
<rect x="2033.5" y="1223.3" width="54.6" height="54.6" fill="none" stroke="#000" stroke-opacity="0.25" stroke-width="1.6"/>
<g stroke="#000" stroke-opacity="0.29" stroke-width="3">
<line x1="257" y1="56.3" x2="290" y2="56.3"/>
<line x1="257" y1="213.3" x2="290" y2="213.3"/>
<line x1="257" y1="372.5" x2="290" y2="372.5"/>
<line x1="257" y1="531.9" x2="290" y2="531.9"/>
<line x1="257" y1="689.5" x2="290" y2="689.5"/>
<line x1="257" y1="848.7" x2="290" y2="848.7"/>
<line x1="257" y1="1008.5" x2="290" y2="1008.5"/>
<line x1="257" y1="1165.6" x2="290" y2="1165.6"/>
</g>
<g stroke="#d2d2d2" stroke-width="2.6">
<line x1="274" y1="1283.4" x2="279.5" y2="1283.4"/>
<line x1="274" y1="1244.1" x2="279.5" y2="1244.1"/>
<line x1="274" y1="1204.9" x2="279.5" y2="1204.9"/>
<line x1="274" y1="1126.3" x2="279.5" y2="1126.3"/>
<line x1="274" y1="1087.0" x2="279.5" y2="1087.0"/>
<line x1="274" y1="1047.8" x2="279.5" y2="1047.8"/>
<line x1="274" y1="968.5" x2="279.5" y2="968.5"/>
<line x1="274" y1="928.6" x2="279.5" y2="928.6"/>
<line x1="274" y1="888.7" x2="279.5" y2="888.7"/>
<line x1="274" y1="808.9" x2="279.5" y2="808.9"/>
<line x1="274" y1="769.1" x2="279.5" y2="769.1"/>
<line x1="274" y1="729.3" x2="279.5" y2="729.3"/>
<line x1="274" y1="650.1" x2="279.5" y2="650.1"/>
<line x1="274" y1="610.7" x2="279.5" y2="610.7"/>
<line x1="274" y1="571.3" x2="279.5" y2="571.3"/>
<line x1="274" y1="492.0" x2="279.5" y2="492.0"/>
<line x1="274" y1="452.2" x2="279.5" y2="452.2"/>
<line x1="274" y1="412.4" x2="279.5" y2="412.4"/>
<line x1="274" y1="332.7" x2="279.5" y2="332.7"/>
<line x1="274" y1="292.9" x2="279.5" y2="292.9"/>
<line x1="274" y1="253.1" x2="279.5" y2="253.1"/>
<line x1="274" y1="174.1" x2="279.5" y2="174.1"/>
<line x1="274" y1="134.8" x2="279.5" y2="134.8"/>
<line x1="274" y1="95.6" x2="279.5" y2="95.6"/>
</g>
<g stroke="#bebebe" stroke-width="3">
<line x1="401.8" y1="1326.5" x2="401.8" y2="1351.5"/>
<line x1="761.5" y1="1326.5" x2="761.5" y2="1351.5"/>
<line x1="1121.2" y1="1326.5" x2="1121.2" y2="1351.5"/>
<line x1="1480.9" y1="1326.5" x2="1480.9" y2="1351.5"/>
<line x1="1840.6" y1="1326.5" x2="1840.6" y2="1351.5"/>
</g>
<g font-weight="bold" font-size="70" fill="#000" text-anchor="end">
<text x="253.5" y="75.4" clip-path="url(#ctop)">160</text>
<text x="253.5" y="232.4">140</text>
<text x="253.5" y="391.6">120</text>
<text x="253.5" y="551.0">100</text>
<text x="253.5" y="708.6">80</text>
<text x="253.5" y="867.8">60</text>
<text x="253.5" y="1027.6">40</text>
<text x="253.5" y="1184.7">20</text>
</g>
<g font-weight="bold" font-size="70" fill="#000" text-anchor="middle">
<text x="413.4" y="1414.3">2010</text>
<text x="773.1" y="1414.3">2020</text>
<text x="1132.8" y="1414.3">2030</text>
<text x="1492.5" y="1414.3">2040</text>
<text x="1852.2" y="1414.3">2050</text>
</g>
<text x="1130.7" y="1464.2" font-weight="bold" font-size="56.5" text-anchor="middle" textLength="159" lengthAdjust="spacingAndGlyphs" fill="#000">Years</text>
<text transform="translate(72.7 662) rotate(-90)" font-weight="bold" font-size="71" text-anchor="middle" textLength="1062" lengthAdjust="spacingAndGlyphs" fill="#000">Methane (Million Metric Tonnes)</text>
<g font-size="45.5" fill="#141414">
<text x="2103.5" y="123.2" textLength="143.5" lengthAdjust="spacingAndGlyphs">Manila</text>
<text x="2103.5" y="194.7" textLength="112.89999999999999" lengthAdjust="spacingAndGlyphs">Pasig</text>
<text x="2103.5" y="266.3" textLength="181.3" lengthAdjust="spacingAndGlyphs">Marikina</text>
<text x="2103.5" y="337.8" textLength="146.20000000000002" lengthAdjust="spacingAndGlyphs">Taguig</text>
<text x="2103.5" y="409.4" textLength="144.60000000000002" lengthAdjust="spacingAndGlyphs">Makati</text>
<text x="2103.5" y="480.9" textLength="162.5" lengthAdjust="spacingAndGlyphs">Quezon</text>
<text x="2103.5" y="552.4" textLength="158.8" lengthAdjust="spacingAndGlyphs">Pateros</text>
<text x="2103.5" y="624.0" textLength="222.60000000000002" lengthAdjust="spacingAndGlyphs">Valenzuela</text>
<text x="2103.5" y="695.5" textLength="120.89999999999999" lengthAdjust="spacingAndGlyphs">Pasay</text>
<text x="2103.5" y="767.1" textLength="190.70000000000002" lengthAdjust="spacingAndGlyphs">Malabon</text>
<text x="2103.5" y="838.6" textLength="191.8" lengthAdjust="spacingAndGlyphs">Las Pinas</text>
<text x="2103.5" y="910.1" textLength="197.70000000000002" lengthAdjust="spacingAndGlyphs">Caloocan</text>
<text x="2103.5" y="981.7" textLength="293.6" lengthAdjust="spacingAndGlyphs">Mandaluyong</text>
<text x="2103.5" y="1053.2" textLength="242.70000000000002" lengthAdjust="spacingAndGlyphs">Muntinlupa</text>
<text x="2103.5" y="1124.8" textLength="173.8" lengthAdjust="spacingAndGlyphs">Navotas</text>
<text x="2103.5" y="1196.3" textLength="225.3" lengthAdjust="spacingAndGlyphs">Paranaque</text>
<text x="2103.5" y="1267.8" textLength="183.3" lengthAdjust="spacingAndGlyphs">San Juan</text>
</g>
</g>
</svg></body></html>
